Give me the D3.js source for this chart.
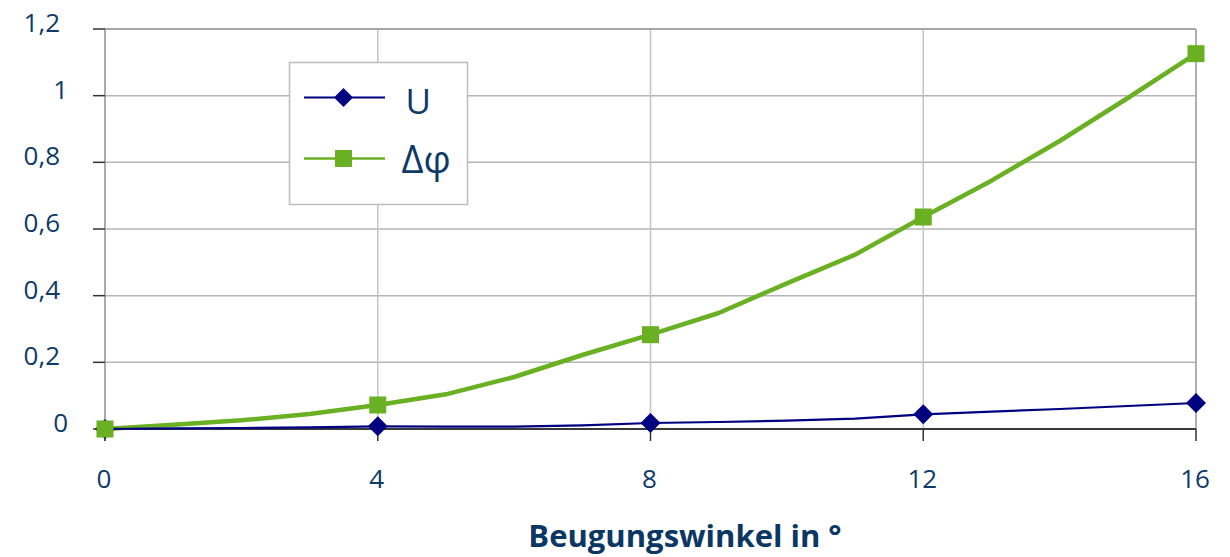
<!DOCTYPE html>
<html>
<head>
<meta charset="utf-8">
<script src="https://cdn.jsdelivr.net/npm/d3@7"></script>
<style>
  body { margin: 0; background: #fff; }
  text { font-family: "Open Sans", sans-serif; }
</style>
</head>
<body>
<div id="chart"></div>
<script>
// data
var angles = [0, 1, 2, 3, 4, 5, 6, 7, 8, 9, 10, 11, 12, 13, 14, 15, 16];
var uValues = [0, 0.002, 0.003, 0.005, 0.008, 0.007, 0.007, 0.011, 0.018, 0.021, 0.025, 0.031, 0.044, 0.052, 0.06, 0.069, 0.078];
var dphiValues = [0, 0.013, 0.026, 0.045, 0.072, 0.104, 0.156, 0.222, 0.283, 0.348, 0.437, 0.523, 0.636, 0.745, 0.864, 0.993, 1.126];
var markerAngles = [0, 4, 8, 12, 16];
var xTicks = [0, 4, 8, 12, 16];
var yTicks = [0, 0.2, 0.4, 0.6, 0.8, 1, 1.2];
var seriesNames = ["U", "\u0394\u03c6"];

var width = 1230,
  height = 557,
  margin = { top: 29, right: 34, bottom: 128, left: 105 };

var textColor = "#0d3a66";
var blue = "#000080";
var green = "#6ab023";

var svg = d3.select("#chart")
  .append("svg")
  .attr("width", width)
  .attr("height", height);

var x = d3.scaleLinear()
  .domain([0, 16])
  .range([margin.left, width - margin.right]);

var y = d3.scaleLinear()
  .domain([0, 1.2])
  .range([height - margin.bottom, margin.top]);

// horizontal grid
svg.append("g")
  .selectAll("line")
  .data(yTicks.slice(1, -1))
  .enter()
  .append("line")
  .attr("x1", x(0))
  .attr("x2", x(16))
  .attr("y1", function(d) { return y(d); })
  .attr("y2", function(d) { return y(d); })
  .attr("stroke", "#b4b4b4")
  .attr("stroke-width", 1.5);

// vertical grid
svg.append("g")
  .selectAll("line")
  .data(xTicks.slice(1, -1))
  .enter()
  .append("line")
  .attr("x1", function(d) { return x(d); })
  .attr("x2", function(d) { return x(d); })
  .attr("y1", y(1.2))
  .attr("y2", y(0))
  .attr("stroke", "#c4c4c4")
  .attr("stroke-width", 1.5);

// frame: top, right, left
svg.append("line")
  .attr("x1", x(0)).attr("x2", x(16))
  .attr("y1", y(1.2)).attr("y2", y(1.2))
  .attr("stroke", "#a6a6a6").attr("stroke-width", 2);
svg.append("line")
  .attr("x1", x(16)).attr("x2", x(16))
  .attr("y1", y(1.2)).attr("y2", y(0))
  .attr("stroke", "#b0b0b0").attr("stroke-width", 2);
svg.append("line")
  .attr("x1", x(0)).attr("x2", x(0))
  .attr("y1", y(1.2)).attr("y2", y(0) + 12)
  .attr("stroke", "#aaaaaa").attr("stroke-width", 2);

// y ticks and labels
svg.append("g")
  .selectAll("line")
  .data(yTicks)
  .enter()
  .append("line")
  .attr("x1", x(0) - 12)
  .attr("x2", x(0))
  .attr("y1", function(d) { return y(d); })
  .attr("y2", function(d) { return y(d); })
  .attr("stroke", "#333")
  .attr("stroke-width", 1.5);

svg.append("g")
  .selectAll("text")
  .data(yTicks)
  .enter()
  .append("text")
  .attr("x", function(d) { return Number.isInteger(d) ? 68 : 60; })
  .attr("y", function(d) { return y(d) + 3; })
  .attr("text-anchor", "end")
  .attr("font-size", "26px")
  .attr("fill", textColor)
  .text(function(d) { return String(d).replace(".", ","); });

// x axis line, ticks and labels
svg.append("line")
  .attr("x1", x(0)).attr("x2", x(16))
  .attr("y1", y(0)).attr("y2", y(0))
  .attr("stroke", "#3a3a3a").attr("stroke-width", 2);

svg.append("g")
  .selectAll("line")
  .data(xTicks)
  .enter()
  .append("line")
  .attr("x1", function(d) { return x(d); })
  .attr("x2", function(d) { return x(d); })
  .attr("y1", y(0))
  .attr("y2", y(0) + 12)
  .attr("stroke", "#333")
  .attr("stroke-width", 1.5);

svg.append("g")
  .selectAll("text")
  .data(xTicks)
  .enter()
  .append("text")
  .attr("x", function(d) { return x(d) - 1; })
  .attr("y", 488)
  .attr("text-anchor", "middle")
  .attr("font-size", "26px")
  .attr("fill", textColor)
  .text(function(d) { return d; });

svg.append("text")
  .attr("x", 685)
  .attr("y", 547)
  .attr("text-anchor", "middle")
  .attr("font-size", "31px")
  .attr("font-weight", "bold")
  .attr("fill", "#0a3763")
  .text("Beugungswinkel in \u00b0");

// lines
var line = d3.line()
  .x(function(d, i) { return x(angles[i]); })
  .y(function(d) { return y(d); });

svg.append("path")
  .datum(dphiValues)
  .attr("fill", "none")
  .attr("stroke", green)
  .attr("stroke-width", 4.5)
  .attr("stroke-linejoin", "round")
  .attr("d", line);

svg.append("path")
  .datum(uValues)
  .attr("fill", "none")
  .attr("stroke", blue)
  .attr("stroke-width", 2.2)
  .attr("d", line);

// markers
var diamond = d3.symbol().type(d3.symbolSquare).size(200);
svg.append("g")
  .selectAll("path")
  .data(markerAngles)
  .enter()
  .append("path")
  .attr("d", diamond)
  .attr("fill", blue)
  .attr("transform", function(d) {
    return "translate(" + x(d) + "," + y(uValues[angles.indexOf(d)]) + ") rotate(45)";
  });

svg.append("g")
  .selectAll("rect")
  .data(markerAngles)
  .enter()
  .append("rect")
  .attr("x", function(d) { return x(d) - 8.5; })
  .attr("y", function(d) { return y(dphiValues[angles.indexOf(d)]) - 8.5; })
  .attr("width", 17)
  .attr("height", 17)
  .attr("fill", green);

// legend
var legend = svg.append("g").attr("transform", "translate(289.5,62.5)");
legend.append("rect")
  .attr("width", 178)
  .attr("height", 142)
  .attr("fill", "#fff")
  .attr("stroke", "#bdbdbd")
  .attr("stroke-width", 1.5);

legend.append("line")
  .attr("x1", 14.5).attr("x2", 95.5)
  .attr("y1", 35).attr("y2", 35)
  .attr("stroke", blue).attr("stroke-width", 2.2);
legend.append("path")
  .attr("d", d3.symbol().type(d3.symbolSquare).size(182))
  .attr("fill", blue)
  .attr("transform", "translate(54,35) rotate(45)");
legend.append("text")
  .attr("x", 116)
  .attr("y", 51)
  .attr("font-size", "35px")
  .attr("fill", textColor)
  .text(seriesNames[0]);

legend.append("line")
  .attr("x1", 14.5).attr("x2", 95.5)
  .attr("y1", 96).attr("y2", 96)
  .attr("stroke", green).attr("stroke-width", 2.5);
legend.append("rect")
  .attr("x", 45.5).attr("y", 87.5)
  .attr("width", 17).attr("height", 17)
  .attr("fill", green);
legend.append("text")
  .attr("x", 112)
  .attr("y", 110)
  .attr("font-size", "38px")
  .attr("fill", textColor)
  .text(seriesNames[1]);
</script>
</body>
</html>
